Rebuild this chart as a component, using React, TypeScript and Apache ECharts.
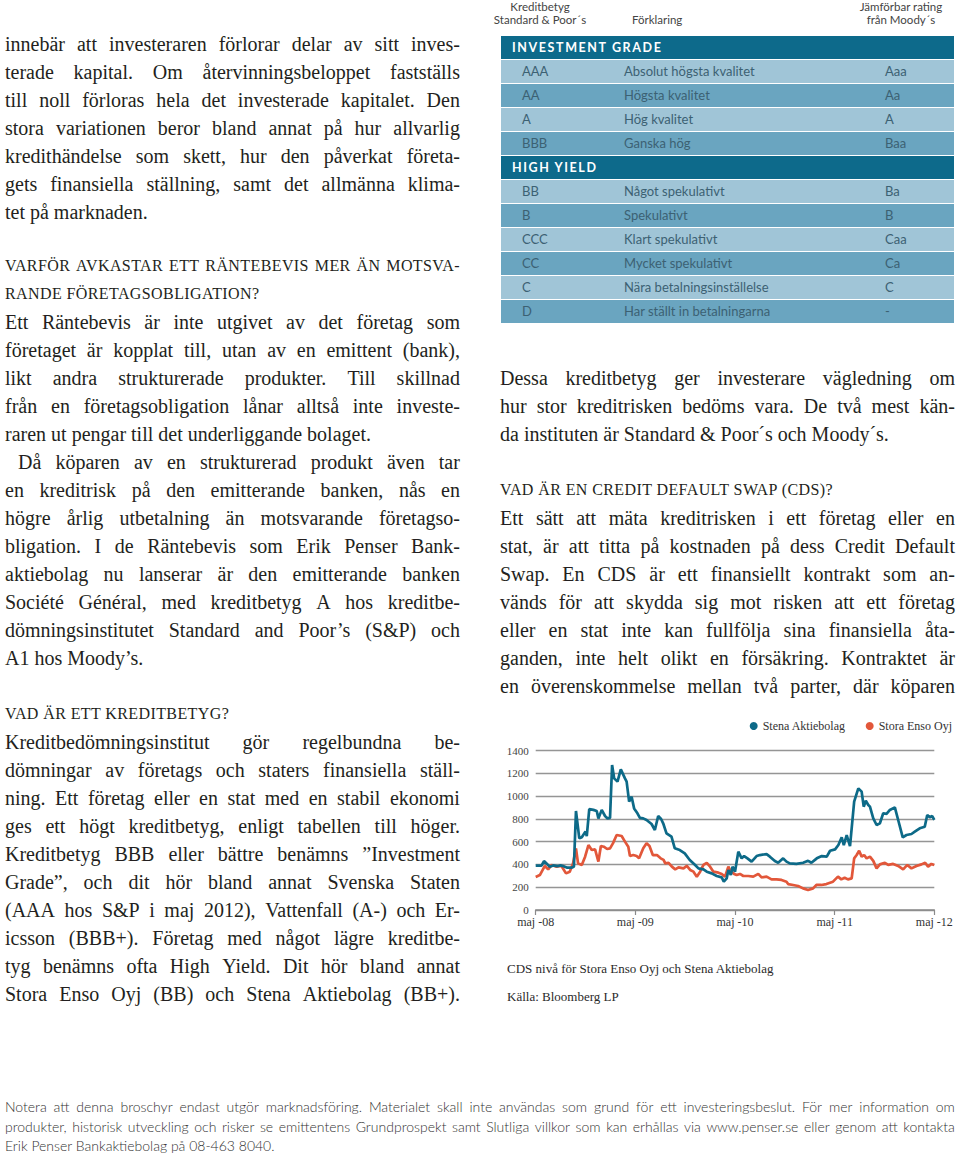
import React, { useEffect, useLayoutEffect, useRef } from "react";
import * as echarts from "echarts";

const SERIF = "Liberation Serif";
const SANS = "Lato";

// ---------- chart data ----------
const xTickLabels = ["maj -08", "maj -09", "maj -10", "maj -11", "maj -12"];
const seriesNames = ["Stena Aktiebolag", "Stora Enso Oyj"];
const seriesColors = ["#0d6a88", "#e2573a"];

// [months since May 2008, CDS level]
const stenaData: [number, number][] = [
  [0, 390], [0.7, 390], [1.0, 430], [1.7, 380], [2.1, 392], [2.6, 385], [3.0, 392], [3.3, 386],
  [3.8, 372], [4.3, 372], [4.6, 380], [4.85, 870], [5.25, 630], [5.55, 640], [6.0, 690], [6.15, 650],
  [6.45, 887], [6.95, 880], [7.35, 870], [7.55, 805], [7.95, 880], [8.35, 826], [8.65, 805], [8.95, 810],
  [9.2, 1274], [9.45, 1157], [9.85, 1128], [10.25, 1236], [10.75, 1157], [10.95, 1128], [11.25, 952],
  [11.55, 996], [11.85, 893], [12.25, 850], [12.55, 810], [12.95, 805], [13.35, 791], [13.95, 756],
  [14.35, 703], [14.75, 826], [15.1, 800], [15.35, 762], [15.75, 674], [16.35, 644], [16.75, 542],
  [17.35, 527], [17.95, 498], [18.55, 439], [19.2, 395], [19.6, 366], [20.2, 357], [20.6, 337],
  [21.2, 322], [21.8, 299], [22.4, 287], [22.65, 249], [23.0, 278], [23.2, 351], [23.5, 308],
  [23.7, 381], [24.0, 337], [24.4, 513], [24.8, 454], [25.1, 474], [25.5, 454], [26.0, 425],
  [26.6, 474], [27.0, 483], [27.8, 491], [28.2, 469], [28.8, 430], [29.2, 415], [29.8, 454],
  [30.2, 425], [30.6, 410], [31.4, 405], [32.2, 415], [32.8, 432], [33.2, 415], [33.85, 454],
  [34.45, 474], [35.05, 469], [35.45, 521], [36.05, 533], [36.45, 571], [36.85, 639], [37.1, 571],
  [37.45, 659], [37.85, 562], [38.35, 952], [38.85, 1069], [39.25, 1040], [39.5, 908], [39.75, 960],
  [40.05, 923], [40.25, 908], [40.65, 805], [41.05, 747], [41.45, 762], [41.85, 850], [42.25, 845],
  [42.65, 879], [43.25, 902], [43.65, 791], [44.2, 639], [44.65, 659], [45.25, 668], [45.65, 688],
  [46.25, 718], [46.85, 732], [47.15, 835], [47.45, 815], [47.75, 826], [48.0, 791],
];

const storaData: [number, number][] = [
  [0, 290], [0.5, 307], [1.1, 387], [1.5, 357], [1.9, 395], [2.5, 381], [3.1, 387], [3.65, 322],
  [4.1, 337], [4.5, 410], [4.85, 542], [5.1, 410], [5.55, 395], [5.95, 469], [6.35, 571], [6.75, 527],
  [7.15, 533], [7.55, 425], [7.85, 562], [8.2, 556], [8.6, 536], [8.95, 542], [9.3, 586], [9.75, 659],
  [10.35, 650], [10.75, 601], [11.15, 556], [11.35, 474], [11.75, 483], [12.15, 474], [12.45, 454],
  [12.95, 542], [13.35, 586], [13.7, 562], [14.1, 483], [14.6, 483], [15.05, 454], [15.4, 440],
  [15.6, 410], [16.0, 415], [16.4, 381], [16.8, 357], [17.2, 375], [17.8, 366], [18.2, 387],
  [18.6, 352], [19.0, 337], [19.4, 293], [19.8, 337], [20.2, 396], [20.6, 415], [21.0, 381],
  [21.4, 337], [22.0, 328], [22.4, 317], [22.8, 293], [23.2, 381], [23.4, 352], [23.9, 317],
  [24.2, 307], [24.6, 317], [25.0, 299], [25.6, 299], [26.2, 293], [26.8, 317], [27.2, 287],
  [27.8, 293], [28.4, 269], [29.0, 269], [29.6, 264], [30.2, 249], [30.4, 228], [31.0, 220],
  [31.6, 211], [32.2, 190], [32.8, 176], [33.4, 190], [33.8, 220], [34.4, 220], [35.0, 228],
  [35.8, 249], [36.4, 293], [36.8, 269], [37.2, 284], [37.6, 269], [38.05, 278], [38.35, 454],
  [38.65, 483], [38.95, 521], [39.25, 469], [39.55, 483], [39.85, 454], [40.25, 469], [40.65, 432],
  [41.05, 366], [41.45, 401], [42.05, 415], [42.45, 396], [43.05, 405], [43.65, 387], [44.25, 357],
  [44.75, 396], [45.25, 366], [45.85, 387], [46.45, 401], [46.9, 415], [47.25, 381], [47.65, 405],
  [48.0, 396],
];

const captionLines = ["CDS nivå för Stora Enso Oyj och Stena Aktiebolag", "Källa: Bloomberg LP"];

// ---------- table data ----------
const investmentGrade: [string, string, string][] = [
  ["AAA", "Absolut högsta kvalitet", "Aaa"],
  ["AA", "Högsta kvalitet", "Aa"],
  ["A", "Hög kvalitet", "A"],
  ["BBB", "Ganska hög", "Baa"],
];
const highYield: [string, string, string][] = [
  ["BB", "Något spekulativt", "Ba"],
  ["B", "Spekulativt", "B"],
  ["CCC", "Klart spekulativt", "Caa"],
  ["CC", "Mycket spekulativt", "Ca"],
  ["C", "Nära betalningsinställelse", "C"],
  ["D", "Har ställt in betalningarna", "-"],
];

// ---------- prose ----------
const para1 = [
  "innebär att investeraren förlorar delar av sitt inves-",
  "terade kapital. Om återvinningsbeloppet fastställs",
  "till noll förloras hela det investerade kapitalet. Den",
  "stora variationen beror bland annat på hur allvarlig",
  "kredithändelse som skett, hur den påverkat företa-",
  "gets finansiella ställning, samt det allmänna klima-",
  "tet på marknaden.",
];
const heading1 = ["VARFÖR AVKASTAR ETT RÄNTEBEVIS MER ÄN MOTSVA-", "RANDE FÖRETAGSOBLIGATION?"];
const para2 = [
  "Ett Räntebevis är inte utgivet av det företag som",
  "företaget är kopplat till, utan av en emittent (bank),",
  "likt andra strukturerade produkter. Till skillnad",
  "från en företagsobligation lånar alltså inte investe-",
  "raren ut pengar till det underliggande bolaget.",
];
const para3 = [
  "Då köparen av en strukturerad produkt även tar",
  "en kreditrisk på den emitterande banken, nås en",
  "högre årlig utbetalning än motsvarande företagso-",
  "bligation. I de Räntebevis som Erik Penser Bank-",
  "aktiebolag nu lanserar är den emitterande banken",
  "Société Général, med kreditbetyg A hos kreditbe-",
  "dömningsinstitutet Standard and Poor’s (S&P) och",
  "A1 hos Moody’s.",
];
const heading2 = ["VAD ÄR ETT KREDITBETYG?"];
const para4 = [
  "Kreditbedömningsinstitut gör regelbundna be-",
  "dömningar av företags och staters finansiella ställ-",
  "ning. Ett företag eller en stat med en stabil ekonomi",
  "ges ett högt kreditbetyg, enligt tabellen till höger.",
  "Kreditbetyg BBB eller bättre benämns ”Investment",
  "Grade”, och dit hör bland annat Svenska Staten",
  "(AAA hos S&P i maj 2012), Vattenfall (A-) och Er-",
  "icsson (BBB+). Företag med något lägre kreditbe-",
  "tyg benämns ofta High Yield. Dit hör bland annat",
  "Stora Enso Oyj (BB) och Stena Aktiebolag (BB+).",
];
const para5 = [
  "Dessa kreditbetyg ger investerare vägledning om",
  "hur stor kreditrisken bedöms vara. De två mest kän-",
  "da instituten är Standard & Poor´s och Moody´s.",
];
const heading3 = ["VAD ÄR EN CREDIT DEFAULT SWAP (CDS)?"];
const para6 = [
  "Ett sätt att mäta kreditrisken i ett företag eller en",
  "stat, är att titta på kostnaden på dess Credit Default",
  "Swap. En CDS är ett finansiellt kontrakt som an-",
  "vänds för att skydda sig mot risken att ett företag",
  "eller en stat inte kan fullfölja sina finansiella åta-",
  "ganden, inte helt olikt en försäkring. Kontraktet är",
  "en överenskommelse mellan två parter, där köparen",
];
const footer = [
  "Notera att denna broschyr endast utgör marknadsföring. Materialet skall inte användas som grund för ett investeringsbeslut. För mer information om",
  "produkter, historisk utveckling och risker se emittentens Grundprospekt samt Slutliga villkor som kan erhållas via www.penser.se eller genom att kontakta",
  "Erik Penser Bankaktiebolag på 08-463 8040.",
];

const TEXT = "#231f20";

function Line({ text, justify, lh, indent = 0 }: { text: string; justify: boolean; lh: number; indent?: number }) {
  const ref = useRef<HTMLDivElement>(null);
  useLayoutEffect(() => {
    const el = ref.current;
    if (!el) return;
    const cs = getComputedStyle(el);
    const fs = parseFloat(cs.fontSize);
    const baseLs = cs.letterSpacing === "normal" ? 0 : parseFloat(cs.letterSpacing) || 0;
    const avail = el.clientWidth - indent;
    const spans = Array.from(el.children) as HTMLElement[];
    const wordsW = spans.reduce((s, sp) => s + sp.getBoundingClientRect().width, 0);
    const need = wordsW + (justify ? (spans.length - 1) * fs * 0.24 : 0);
    if (need > avail) {
      el.style.letterSpacing = baseLs - (need - avail) / text.length + "px";
    }
  }, [text, justify, indent]);
  const base: React.CSSProperties = { height: lh, lineHeight: lh + "px", whiteSpace: "nowrap", paddingLeft: indent };
  if (justify) {
    return (
      <div ref={ref} style={{ ...base, display: "flex", justifyContent: "space-between" }}>
        {text.split(" ").map((w, i) => (
          <span key={i}>{w}</span>
        ))}
      </div>
    );
  }
  return (
    <div ref={ref} style={base}>
      <span>{text}</span>
    </div>
  );
}

function Para({
  lines, left, top, width, lh = 28, style, justifyLast = false, indent = 0, justifyAll = true,
}: {
  lines: string[]; left: number; top: number; width: number; lh?: number; style?: React.CSSProperties;
  justifyLast?: boolean; indent?: number; justifyAll?: boolean;
}) {
  return (
    <div style={{ position: "absolute", left, top, width, fontFamily: SERIF, fontSize: 20, color: TEXT, ...style }}>
      {lines.map((l, i) => (
        <Line key={i} text={l} lh={lh} indent={i === 0 ? indent : 0}
          justify={justifyAll && (i < lines.length - 1 || justifyLast)} />
      ))}
    </div>
  );
}

const headingStyle: React.CSSProperties = { fontSize: 16, letterSpacing: 0.4 };

function RatingTable() {
  const rowH = 23;
  const pitch = 24;
  const rows: React.ReactNode[] = [];
  const light = "#a0c5d7";
  const mid = "#6aa5c0";
  const dark = "#0d6a8b";
  const txt = "#3c6173";
  const addHeader = (label: string, k: number) => {
    rows.push(
      <div key={"h" + k} style={{ position: "absolute", left: 0, top: k * pitch, width: 453, height: rowH, background: dark }}>
        <span style={{ position: "absolute", left: 11, top: 0, lineHeight: rowH + "px", color: "#fff", fontWeight: 700, fontSize: 12.5, letterSpacing: 1.6, fontFamily: SANS }}>
          {label}
        </span>
      </div>
    );
  };
  const addRow = (r: [string, string, string], k: number, j: number) => {
    rows.push(
      <div key={"r" + k} style={{ position: "absolute", left: 0, top: k * pitch, width: 453, height: rowH, background: j % 2 === 0 ? light : mid, fontFamily: SANS, fontWeight: 400, fontSize: 13, color: txt, lineHeight: rowH + "px" }}>
        <span style={{ position: "absolute", left: 21 }}>{r[0]}</span>
        <span style={{ position: "absolute", left: 123 }}>{r[1]}</span>
        <span style={{ position: "absolute", left: 384 }}>{r[2]}</span>
      </div>
    );
  };
  let k = 0;
  addHeader("INVESTMENT GRADE", k++);
  investmentGrade.forEach((r, j) => addRow(r, k++, j));
  addHeader("HIGH YIELD", k++);
  highYield.forEach((r, j) => addRow(r, k++, j));
  return <div style={{ position: "absolute", left: 501, top: 36, width: 453, height: 290 }}>{rows}</div>;
}

function CdsChart() {
  const ref = useRef<HTMLDivElement>(null);
  useEffect(() => {
    if (!ref.current) return;
    const chart = echarts.init(ref.current, undefined, { renderer: "svg" });
    chart.setOption({
      animation: false,
      textStyle: { fontFamily: SERIF },
      legend: {
        data: seriesNames,
        right: 3,
        top: 15,
        icon: "circle",
        itemWidth: 8,
        itemHeight: 8,
        itemGap: 20,
        textStyle: { fontSize: 12, color: "#333", fontFamily: SERIF },
      },
      grid: { left: 40.7, right: 25.7, top: 50.7, bottom: 100 },
      xAxis: {
        type: "value",
        min: 0,
        max: 48,
        interval: 12,
        axisLine: { show: true, lineStyle: { color: "#8a8a8a", width: 1.5 } },
        axisTick: { show: true, length: 5, lineStyle: { color: "#8a8a8a", width: 1.2 } },
        axisLabel: {
          formatter: (v: number) => xTickLabels[Math.round(v / 12)] ?? "",
          fontSize: 12,
          color: "#333",
          margin: 6,
          fontFamily: SERIF,
        },
        splitLine: { show: false },
      },
      yAxis: {
        type: "value",
        min: 0,
        max: 1400,
        interval: 200,
        axisLine: { show: false },
        axisTick: { show: false },
        axisLabel: { fontSize: 11, color: "#444", margin: 7, fontFamily: SERIF, formatter: (v: number) => String(v) },
        splitLine: { lineStyle: { color: "#959595", width: 1.3 } },
      },
      series: [
        {
          name: seriesNames[1],
          type: "line",
          data: storaData,
          showSymbol: false,
          lineStyle: { color: seriesColors[1], width: 2.7 },
          itemStyle: { color: seriesColors[1] },
        },
        {
          name: seriesNames[0],
          type: "line",
          data: stenaData,
          showSymbol: false,
          lineStyle: { color: seriesColors[0], width: 2.7 },
          itemStyle: { color: seriesColors[0] },
        },
      ],
      graphic: captionLines.map((t, i) => ({
        type: "text",
        x: 12,
        y: 268 + i * 28,
        style: { text: t, fontSize: 13, fontFamily: SERIF, fill: "#2a2a2a", verticalAlign: "middle" },
      })),
    });
    return () => chart.dispose();
  }, []);
  return <div ref={ref} style={{ position: "absolute", left: 495, top: 700, width: 465, height: 310 }} />;
}

export default function App() {
  useEffect(() => {
    document.body.style.margin = "0";
  }, []);
  return (
    <div style={{ position: "absolute", left: 0, top: 0, width: 960, height: 1155, background: "#fff", overflow: "hidden" }}>
      {/* left column */}
      <Para lines={para1} left={5} top={30} width={455} />
      <Para lines={heading1} left={5} top={252} width={455} style={headingStyle} />
      <Para lines={para2} left={5} top={308} width={455} />
      <Para lines={para3} left={5} top={448} width={455} indent={13} />
      <Para lines={heading2} left={5} top={700} width={455} style={headingStyle} justifyAll={false} />
      <Para lines={para4} left={5} top={728} width={455} justifyLast />

      {/* right column: table header */}
      <div style={{ position: "absolute", left: 480, top: 0, width: 120, textAlign: "center", fontFamily: SANS, fontSize: 11.5, color: "#444", lineHeight: "13px" }}>
        <div>Kreditbetyg</div>
        <div>Standard &amp; Poor´s</div>
      </div>
      <div style={{ position: "absolute", left: 632, top: 13, fontFamily: SANS, fontSize: 11.5, color: "#444", lineHeight: "13px" }}>Förklaring</div>
      <div style={{ position: "absolute", left: 841, top: 0, width: 120, textAlign: "center", fontFamily: SANS, fontSize: 11.5, color: "#444", lineHeight: "13px" }}>
        <div>Jämförbar rating</div>
        <div>från Moody´s</div>
      </div>
      <RatingTable />

      <Para lines={para5} left={500} top={364} width={455} />
      <Para lines={heading3} left={500} top={476} width={455} style={headingStyle} justifyAll={false} />
      <Para lines={para6} left={500} top={504} width={455} justifyLast />

      <CdsChart />

      {/* footer */}
      <div style={{ position: "absolute", left: 5, top: 1097, width: 950, fontFamily: SANS, fontWeight: 300, fontSize: 14, color: "#333" }}>
        {footer.map((l, i) => (
          <Line key={i} text={l} lh={19.5} justify={i < footer.length - 1} />
        ))}
      </div>
    </div>
  );
}
